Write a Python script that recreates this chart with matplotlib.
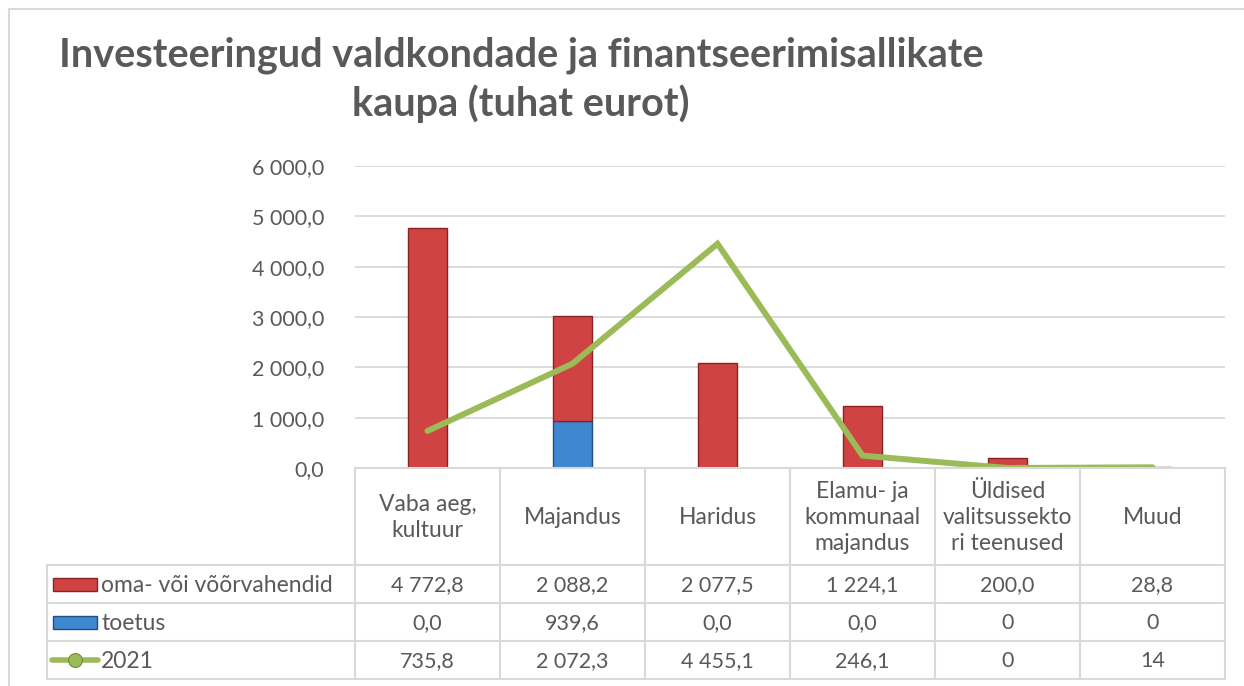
import matplotlib.pyplot as plt
import numpy as np
from matplotlib.lines import Line2D
from matplotlib.patches import Rectangle

plt.rcParams['font.family'] = ['Lato', 'DejaVu Sans']

categories = ["Vaba aeg,\nkultuur", "Majandus", "Haridus",
              "Elamu- ja\nkommunaal\nmajandus", "Üldised\nvalitsussekto\nri teenused", "Muud"]
oma = [4772.8, 2088.2, 2077.5, 1224.1, 200.0, 28.8]
toetus = [0.0, 939.6, 0.0, 0.0, 0.0, 0.0]
y2021 = [735.8, 2072.3, 4455.1, 246.1, 0.0, 14.0]
oma_labels = ["4 772,8", "2 088,2", "2 077,5", "1 224,1", "200,0", "28,8"]
toetus_labels = ["0,0", "939,6", "0,0", "0,0", "0", "0"]
y2021_labels = ["735,8", "2 072,3", "4 455,1", "246,1", "0", "14"]
yticks = [0, 1000, 2000, 3000, 4000, 5000, 6000]

TXT = "#595959"
GRID = "#d9d9d9"
RED = "#d04343"
RED_EDGE = "#8a2222"
BLUE = "#3f87cf"
BLUE_EDGE = "#1f4e86"
GREEN = "#9bbb59"

W, H = 1244, 686
fig = plt.figure(figsize=(W / 100, H / 100), dpi=100)

# plot area in pixels
L, R, TOP, BOT = 355, 1225, 166, 468
ax = fig.add_axes([L / W, 1 - BOT / H, (R - L) / W, (BOT - TOP) / H])
x = np.arange(len(categories))
ax.bar(x, toetus, width=0.27, color=BLUE, edgecolor=BLUE_EDGE, linewidth=1, zorder=2)
ax.bar(x, oma, width=0.27, bottom=toetus, color=RED, edgecolor=RED_EDGE, linewidth=1, zorder=2)
ax.plot(x, y2021, color=GREEN, linewidth=4.3, solid_capstyle='round',
        solid_joinstyle='miter', zorder=3)
ax.set_xlim(-0.5, len(categories) - 0.5)
ax.set_ylim(0, 6000)
ax.set_yticks(yticks)
ax.set_yticklabels([f"{v:,.1f}".replace(",", " ").replace(".", ",") for v in yticks],
                   color=TXT, fontsize=15.5)
ax.tick_params(axis='y', length=0, pad=22)
ax.set_xticks([])
ax.grid(axis='y', color=GRID, linewidth=1.3, zorder=0)
for s in ax.spines.values():
    s.set_visible(False)

# overlay in pixel coordinates for the title and border
ov = fig.add_axes([0, 0, 1, 1], zorder=-1)
ov.set_xlim(0, W)
ov.set_ylim(H, 0)
ov.axis('off')
ov.plot([9, 9, W + 5], [H + 5, 9, 9], color=GRID, linewidth=1.5)

ov.text(521, 55, "Investeeringud valdkondade ja finantseerimisallikate",
        ha='center', va='center', fontsize=28.5, fontweight='bold', color=TXT)
ov.text(521, 104, "kaupa (tuhat eurot)",
        ha='center', va='center', fontsize=28.5, fontweight='bold', color=TXT)

# data table
col_w = (R - L) / len(categories)
row_y = [BOT, 565, 603, 641, 679]
TL = 47
tab = fig.add_axes([0, 0, 1, 1], zorder=4)
tab.set_xlim(0, W)
tab.set_ylim(H, 0)
tab.axis('off')
tab.patch.set_alpha(0)
for k in range(len(categories) + 1):
    xx = L + k * col_w
    tab.plot([xx, xx], [BOT, row_y[-1]], color=GRID, linewidth=1.5)
tab.plot([L, R], [BOT, BOT], color=GRID, linewidth=1.5)
for yy in row_y[1:]:
    tab.plot([TL, R], [yy, yy], color=GRID, linewidth=1.5)
tab.plot([TL, TL], [row_y[1], row_y[-1]], color=GRID, linewidth=1.5)

for k, c in enumerate(categories):
    tab.text(L + (k + 0.5) * col_w, (BOT + row_y[1]) / 2 + 1, c, ha='center', va='center',
             fontsize=16.5, color=TXT, linespacing=1.3)

rows = [("oma- või võõrvahendid", oma_labels), ("toetus", toetus_labels), ("2021", y2021_labels)]
for r, (name, labels) in enumerate(rows):
    yc = (row_y[r + 1] + row_y[r + 2]) / 2
    tab.text(101, yc + 2, name, ha='left', va='center', fontsize=16.5, color=TXT)
    for k, lab in enumerate(labels):
        tab.text(L + (k + 0.5) * col_w, yc + 1, lab, ha='center', va='center',
                 fontsize=15.5, color=TXT)

# legend keys
y0 = (row_y[1] + row_y[2]) / 2
tab.add_patch(Rectangle((53, y0 - 6.5), 44, 13, facecolor=RED, edgecolor=RED_EDGE, linewidth=1))
y1 = (row_y[2] + row_y[3]) / 2
tab.add_patch(Rectangle((53, y1 - 6.5), 44, 13, facecolor=BLUE, edgecolor=BLUE_EDGE, linewidth=1))
y2 = (row_y[3] + row_y[4]) / 2
tab.add_line(Line2D([52, 98], [y2, y2], color=GREEN, linewidth=4, solid_capstyle='round'))
tab.plot([75], [y2], marker='o', markersize=10, markerfacecolor=GREEN,
         markeredgecolor="#6f8f2f", markeredgewidth=0.8)

fig.savefig("out.png", dpi=100)
